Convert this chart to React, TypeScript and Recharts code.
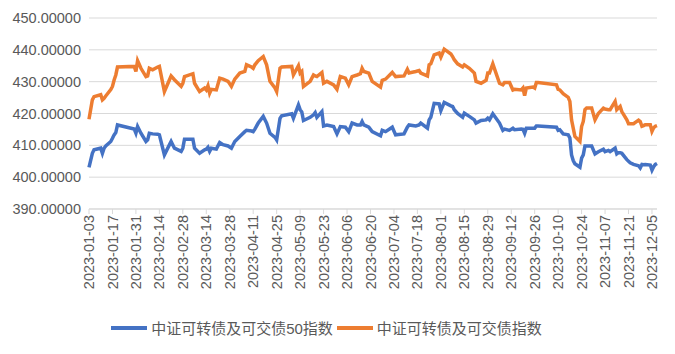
import { LineChart, Line, XAxis, YAxis, CartesianGrid, Legend } from 'recharts';

// trading days (2023)
const dates = [
  '01-03', '01-05', '01-06', '01-10', '01-11', '01-12', '01-13', '01-16', '01-17', '01-18', '01-19', '01-20',
  '01-30', '01-31', '02-01', '02-03', '02-06', '02-07', '02-08', '02-10', '02-13', '02-14', '02-17', '02-21',
  '02-23', '02-27', '02-28', '03-01', '03-06', '03-07', '03-10', '03-13', '03-14', '03-15', '03-16', '03-17',
  '03-20', '03-22', '03-24', '03-27', '03-29', '03-31', '04-03', '04-06', '04-07', '04-10', '04-11', '04-12',
  '04-14', '04-17', '04-19', '04-21', '04-24', '04-25', '04-27', '04-28', '05-04', '05-05', '05-08', '05-09',
  '05-10', '05-11', '05-15', '05-17', '05-18', '05-19', '05-22', '05-23', '05-25', '05-29', '05-31', '06-02',
  '06-05', '06-07', '06-09', '06-12', '06-14', '06-15', '06-16', '06-19', '06-21', '06-26', '06-27', '06-29',
  '07-03', '07-05', '07-10', '07-12', '07-13', '07-17', '07-19', '07-20', '07-24', '07-25', '07-26', '07-28',
  '07-31', '08-01', '08-03', '08-07', '08-08', '08-09', '08-11', '08-14', '08-15', '08-18', '08-21', '08-22',
  '08-25', '08-28', '08-29', '08-30', '09-01', '09-05', '09-07', '09-08', '09-11', '09-13', '09-14', '09-18',
  '09-19', '09-20', '09-21', '09-25', '09-26', '09-27', '09-28', '10-09', '10-10', '10-11', '10-13', '10-16',
  '10-17', '10-18', '10-19', '10-20', '10-23', '10-24', '10-25', '10-26', '10-27', '10-30', '11-01', '11-03',
  '11-06', '11-07', '11-09', '11-10', '11-13', '11-14', '11-15', '11-16', '11-17', '11-20', '11-21', '11-22',
  '11-24', '11-27', '11-28', '11-29', '11-30', '12-01', '12-04', '12-05', '12-06', '12-07', '12-08',
];

// 中证可转债及可交债50指数
const index50 = [
  403.1, 407.5, 408.6, 409.1, 407.5, 409.1, 409.8, 411.2, 412.2, 413.3, 414.0, 416.4,
  415.1, 413.8, 415.9, 413.8, 411.2, 411.7, 413.8, 413.6, 413.5, 413.3, 407.0, 411.2,
  409.1, 408.1, 409.1, 411.9, 411.9, 409.1, 407.5, 408.6, 408.8, 409.4, 408.1, 409.1,
  408.8, 410.9, 410.2, 409.8, 409.1, 411.2, 412.8, 414.3, 414.7, 414.5, 414.3, 415.1,
  417.0, 419.1, 417.0, 413.8, 412.5, 411.7, 418.5, 419.3, 419.9, 418.5, 422.7, 421.2,
  420.5, 417.8, 418.8, 419.6, 420.3, 418.8, 420.6, 416.1, 416.4, 415.9, 413.6, 415.9,
  415.7, 414.3, 417.0, 416.4, 416.4, 417.5, 416.4, 415.7, 414.3, 413.0, 414.7, 414.3,
  415.7, 413.3, 413.6, 415.7, 416.4, 416.1, 416.4, 417.0, 415.4, 418.0, 418.8, 423.2,
  423.0, 420.9, 423.5, 422.4, 422.2, 421.2, 420.0, 418.8, 420.1, 419.1, 418.0, 417.0,
  417.8, 418.0, 418.5, 418.0, 419.9, 417.0, 414.7, 415.1, 414.7, 415.4, 414.9, 415.1,
  415.0, 413.8, 415.4, 415.4, 415.4, 416.1, 416.1, 415.7, 414.7, 414.9, 413.6, 413.3,
  412.3, 407.0, 405.2, 404.2, 403.1, 406.0, 407.0, 409.8, 409.8, 409.8, 407.3, 408.0,
  408.8, 408.0, 408.4, 408.0, 409.1, 407.3, 407.7, 407.7, 407.5, 405.5, 405.0, 404.5,
  404.0, 403.6, 402.9, 404.0, 403.9, 404.0, 403.8, 402.2, 403.3, 404.0, 404.3,
];

// 中证可转债及可交债指数
const indexAll = [
  418.2, 424.3, 425.3, 425.9, 424.3, 424.8, 425.5, 427.5, 428.5, 430.5, 432.1, 434.6,
  434.8, 433.2, 436.6, 434.2, 431.6, 431.8, 434.2, 433.7, 434.6, 434.8, 426.9, 431.8,
  430.6, 428.5, 429.5, 431.6, 432.5, 429.5, 426.9, 428.0, 427.4, 428.7, 426.4, 427.6,
  427.4, 431.1, 430.8, 430.1, 428.5, 430.8, 432.7, 433.2, 435.3, 434.6, 434.2, 435.3,
  436.6, 437.9, 435.3, 430.1, 428.0, 426.9, 434.2, 434.6, 434.8, 432.1, 435.0, 432.7,
  433.2, 428.5, 430.1, 432.1, 431.8, 431.6, 432.9, 429.5, 430.1, 429.0, 427.6, 431.6,
  431.1, 429.0, 431.6, 432.1, 432.5, 434.2, 433.2, 432.7, 430.1, 428.3, 430.4, 430.8,
  432.9, 431.6, 431.8, 433.9, 432.7, 433.2, 433.5, 432.7, 431.8, 435.3, 435.6, 438.4,
  439.0, 437.7, 440.2, 438.7, 437.9, 436.9, 435.6, 434.6, 435.3, 434.2, 432.7, 430.1,
  429.5, 430.4, 432.7, 432.7, 435.6, 429.5, 429.0, 429.7, 429.7, 427.4, 427.6, 427.4,
  428.0, 425.6, 428.0, 428.3, 428.0, 429.7, 429.7, 429.0, 427.6, 427.4, 426.2, 425.1,
  423.8, 418.0, 415.4, 412.8, 411.2, 415.9, 417.5, 421.2, 421.7, 421.7, 418.0, 420.0,
  421.7, 421.4, 421.2, 421.2, 423.8, 421.2, 421.7, 422.2, 420.6, 418.0, 416.8, 416.8,
  416.8, 417.9, 417.5, 416.0, 416.2, 416.5, 416.5, 414.4, 415.5, 416.0, 416.2,
];

const tickLabels = [
  '2023-01-03', '2023-01-17', '2023-01-31', '2023-02-14', '2023-02-28', '2023-03-14', '2023-03-28',
  '2023-04-11', '2023-04-25', '2023-05-09', '2023-05-23', '2023-06-06', '2023-06-20', '2023-07-04',
  '2023-07-18', '2023-08-01', '2023-08-15', '2023-08-29', '2023-09-12', '2023-09-26', '2023-10-10',
  '2023-10-24', '2023-11-07', '2023-11-21', '2023-12-05',
];

const yTicks = [390, 400, 410, 420, 430, 440, 450];

const BLUE = '#4472C4';
const ORANGE = '#ED7D31';
const FONT = '"Liberation Sans", "Noto Sans CJK SC", sans-serif';

const toDay = (s: string) => {
  const [y, m, d] = s.split('-').map(Number);
  return (Date.UTC(y, m - 1, d) - Date.UTC(2023, 0, 3)) / 86400000;
};

const data = dates.map((d, i) => ({
  t: toDay('2023-' + d),
  a: index50[i],
  b: indexAll[i],
}));

const tickDays = tickLabels.map(toDay);

const DateTick = (props: any) => {
  const { x, y, payload } = props;
  return (
    <g transform={`translate(${x},${y})`}>
      <text
        transform="rotate(-90)"
        textAnchor="end"
        dy="0.35em"
        fontSize={14.5}
        fill="#595959"
        fontFamily={FONT}
      >
        {tickLabels[tickDays.indexOf(payload.value)]}
      </text>
    </g>
  );
};

const LegendContent = () => (
  <div
    style={{
      display: 'flex',
      justifyContent: 'center',
      alignItems: 'center',
      fontFamily: FONT,
      fontSize: 15,
      color: '#595959',
    }}
  >
    {[
      { c: BLUE, n: '中证可转债及可交债50指数' },
      { c: ORANGE, n: '中证可转债及可交债指数' },
    ].map((it) => (
      <div key={it.n} style={{ display: 'flex', alignItems: 'center', marginRight: 4 }}>
        <span style={{ display: 'inline-block', width: 36, height: 4, background: it.c, marginRight: 4 }} />
        <span>{it.n}</span>
      </div>
    ))}
  </div>
);

export default function App() {
  return (
    <div style={{ position: 'absolute', left: 0, top: 0, background: '#fff' }}>
      <LineChart width={675} height={354} data={data} margin={{ top: 18, right: 18, left: 0, bottom: 16 }}>
        <CartesianGrid vertical={false} stroke="#d9d9d9" />
        <XAxis
          dataKey="t"
          type="number"
          domain={[0, 339]}
          ticks={tickDays}
          interval={0}
          tick={<DateTick />}
          height={108}
          axisLine={{ stroke: '#d9d9d9' }}
          tickLine={{ stroke: '#d9d9d9' }}
          tickSize={5}
          tickMargin={1}
        />
        <YAxis
          domain={[390, 450]}
          ticks={yTicks}
          width={89}
          axisLine={false}
          tickLine={false}
          tickFormatter={(v: number) => v.toFixed(5)}
          tick={{ fontSize: 14.5, fill: '#595959', fontFamily: FONT }}
        />
        <Legend verticalAlign="bottom" content={<LegendContent />} />
        <Line type="linear" dataKey="a" stroke={BLUE} strokeWidth={3.5} dot={false} isAnimationActive={false} />
        <Line type="linear" dataKey="b" stroke={ORANGE} strokeWidth={3.5} dot={false} isAnimationActive={false} />
      </LineChart>
    </div>
  );
}
